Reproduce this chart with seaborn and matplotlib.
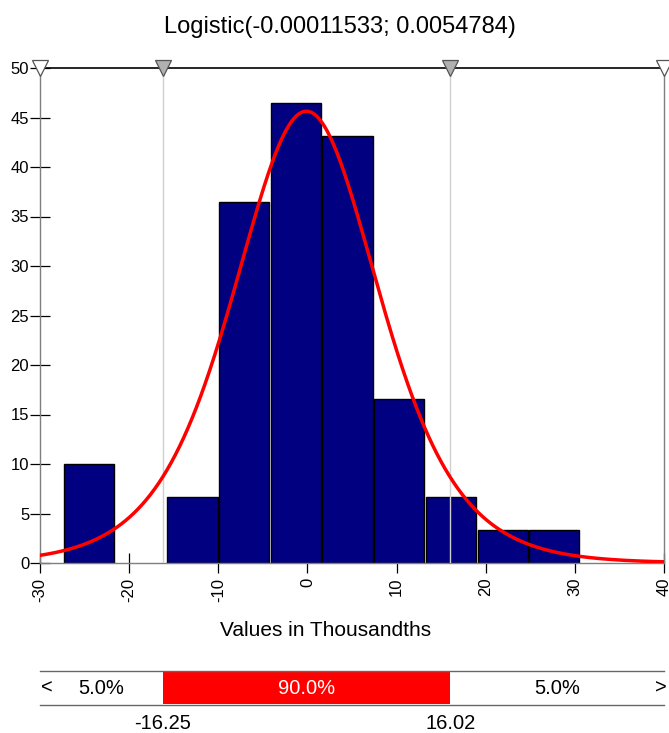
import numpy as np
import pandas as pd
import matplotlib
matplotlib.use("Agg")
import matplotlib.pyplot as plt
import seaborn as sns

# ---- data ----
title_text = "Logistic(-0.00011533; 0.0054784)"
mu_thousandths = -0.11533      # location, in thousandths
s_thousandths = 5.4784         # scale, in thousandths
bin_edges = [-27.4, -21.6, -15.8, -10.0, -4.2, 1.6, 7.4, 13.2, 19.0, 24.8, 30.6]
bin_heights = [9.95, 0.0, 6.63, 36.47, 46.42, 43.10, 16.58, 6.63, 3.32, 3.32]
x_ticks = [-30, -20, -10, 0, 10, 20, 30, 40]
y_ticks = [0, 5, 10, 15, 20, 25, 30, 35, 40, 45, 50]
x_min, x_max = -30, 40
y_max = 50
p_low, p_high = -16.25, 16.02
pct_left, pct_mid, pct_right = "5.0%", "90.0%", "5.0%"
x_label = "Values in Thousandths"

sns.set_style("white")
plt.rcParams['font.family'] = ['Liberation Sans', 'DejaVu Sans']
plt.rcParams['text.color'] = 'black'

W, H = 669, 733
fig = plt.figure(figsize=(W / 100, H / 100), dpi=100)
ax = fig.add_axes([40 / W, 1 - 563 / H, 624 / W, 495 / H])
ax2 = fig.add_axes([40 / W, 1 - 705 / H, 624 / W, 34 / H])

# histogram bars
centers = [(bin_edges[i] + bin_edges[i + 1]) / 2 for i in range(len(bin_heights))]
df = pd.DataFrame({"x": centers, "w": bin_heights})
sns.histplot(data=df, x="x", weights="w", bins=bin_edges, stat="count",
             color="#000080", edgecolor="black", linewidth=1.0, alpha=1.0,
             shrink=0.97, ax=ax, zorder=2)
for p in list(ax.patches):
    if p.get_height() == 0:
        p.remove()

# fitted logistic density (from title parameters), scaled to the y units
xs = np.linspace(x_min, x_max, 600)
z = np.exp(-(xs - mu_thousandths) / s_thousandths)
ys = 1000 * z / (s_thousandths * (1 + z) ** 2)
sns.lineplot(x=xs, y=ys, color="red", linewidth=2.5, ax=ax, zorder=5)

# percentile lines (drawn over the bars)
for v in (p_low, p_high):
    ax.axvline(v, ymin=0, ymax=1, color="#cfcfcf", linewidth=1.0, zorder=3)

ax.set_xlim(x_min, x_max)
ax.set_ylim(0, y_max)
ax.set_xticks(x_ticks)
ax.set_yticks(y_ticks)
ax.set_xticklabels([str(t) for t in x_ticks], rotation=90, fontsize=12)
ax.set_yticklabels([str(t) for t in y_ticks], fontsize=12)
ax.tick_params(axis="y", direction="inout", length=15, width=0.9, pad=0.3,
               colors="black", left=True)
ax.tick_params(axis="x", direction="inout", length=15, width=0.9, pad=3,
               colors="black", bottom=True)
ax.set_xlabel("")
ax.set_ylabel("")
for side in ("left", "bottom", "right"):
    ax.spines[side].set_visible(True)
    ax.spines[side].set_color("#7f7f7f")
    ax.spines[side].set_linewidth(1.0)
ax.spines["top"].set_visible(True)
ax.spines["top"].set_color("black")
ax.spines["top"].set_linewidth(1.2)

# triangle markers at the top
ax.plot([x_min, x_max], [y_max, y_max], linestyle="none", marker="v", markersize=11,
        markerfacecolor="white", markeredgecolor="#555555", markeredgewidth=0.9,
        clip_on=False, zorder=10)
ax.plot([p_low, p_high], [y_max, y_max], linestyle="none", marker="v", markersize=11,
        markerfacecolor="#b0b0b0", markeredgecolor="#555555", markeredgewidth=0.9,
        clip_on=False, zorder=10)

# title and axis label
fig.text(339.5 / W, 1 - 27 / H, title_text, ha="center", va="center", fontsize=17,
         color="black")
fig.text(325.5 / W, 1 - 630 / H, x_label, ha="center", va="center", fontsize=15,
         color="black")

# bottom percentile bar
ax2.set_xlim(x_min, x_max)
ax2.set_ylim(0, 1)
ax2.axvspan(p_low, p_high, ymin=0.03, ymax=0.97, color="red", linewidth=0)
ax2.set_xticks([])
ax2.set_yticks([])
ax2.set_facecolor("none")
for side in ("left", "right"):
    ax2.spines[side].set_visible(False)
for side in ("top", "bottom"):
    ax2.spines[side].set_visible(True)
    ax2.spines[side].set_color("#666666")
    ax2.spines[side].set_linewidth(1.0)
ax2.text(-29.2, 0.5, "<", ha="center", va="center", fontsize=14.5, color="black")
ax2.text(x_max - 0.4, 0.5, ">", ha="center", va="center", fontsize=14.5, color="black")
ax2.text((x_min + p_low) / 2, 0.5, pct_left, ha="center", va="center", fontsize=14.5,
         color="black")
ax2.text((p_low + p_high) / 2, 0.5, pct_mid, ha="center", va="center", fontsize=14.5,
         color="white")
ax2.text((p_high + x_max) / 2, 0.5, pct_right, ha="center", va="center", fontsize=14.5,
         color="black")
ax2.text(p_low, -0.55, f"{p_low:.2f}", ha="center", va="center", fontsize=14.5,
         color="black")
ax2.text(p_high, -0.55, f"{p_high:.2f}", ha="center", va="center", fontsize=14.5,
         color="black")

fig.savefig("out.png", dpi=100)
